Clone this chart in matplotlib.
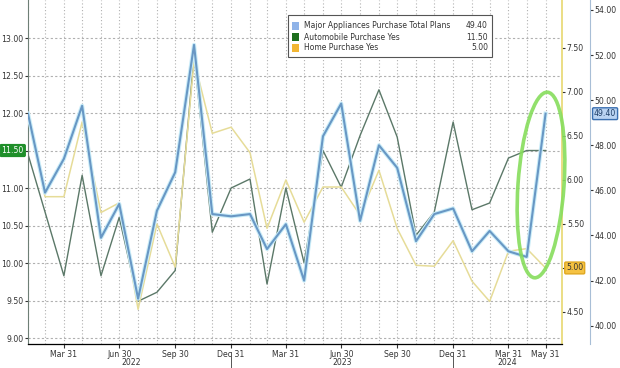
import numpy as np
import pandas as pd
import matplotlib
matplotlib.use('Agg')
import matplotlib.pyplot as plt
import matplotlib.dates as mdates
import matplotlib.patheffects as pe
from matplotlib.patches import Ellipse, Rectangle

plt.rcParams['font.family'] = 'DejaVu Sans'
plt.rcParams['font.size'] = 5.6

# monthly readings, Jan 2022 .. May 2024
months = pd.date_range('2022-01-31', '2024-05-31', freq='ME')
appliances = [49.4, 45.9, 47.4, 49.75, 43.9, 45.4, 41.2, 45.1, 46.8, 52.45, 44.95, 44.85,
              44.95, 43.4, 44.5, 42.0, 48.4, 49.85, 44.65, 48.0, 47.0, 43.75, 44.95, 45.2,
              43.3, 44.2, 43.3, 43.05, 49.4]
automobile = [11.45, 10.68, 9.83, 11.17, 9.83, 10.61, 9.49, 9.61, 9.9, 12.77, 10.41, 11.0,
              11.12, 9.72, 11.0, 10.0, 11.5, 11.01, 11.7, 12.31, 11.68, 10.37, 10.68, 11.88,
              10.71, 10.8, 11.4, 11.5, 11.5]
home = [6.72, 5.81, 5.81, 6.66, 5.63, 5.74, 4.53, 5.5, 5.01, 7.36, 6.53, 6.6,
        6.31, 5.45, 6.0, 5.52, 5.92, 5.92, 5.6, 6.11, 5.45, 5.03, 5.02, 5.31,
        4.85, 4.62, 5.19, 5.22, 5.0]

names = ['Major Appliances Purchase Total Plans', 'Automobile Purchase Yes', 'Home Purchase Yes']
last_vals = ['49.40', '11.50', '5.00']
legend_cols = ['#8fb3e8', '#1d6e1d', '#f2b632']

tick_dates = pd.to_datetime(['2022-03-31', '2022-06-30', '2022-09-30', '2022-12-31',
                             '2023-03-31', '2023-06-30', '2023-09-30', '2023-12-31',
                             '2024-03-31', '2024-05-31'])
year_breaks = pd.to_datetime(['2022-12-31', '2023-12-31'])
xmin, xmax = pd.Timestamp('2022-02-06'), pd.Timestamp('2024-06-27')

W, H = 620, 368
fig = plt.figure(figsize=(W / 100, H / 100), dpi=100)
ax = fig.add_axes([28 / W, 24 / H, 534 / W, 344 / H])
ax2 = ax.twinx()
ax3 = ax.twinx()
ax3.spines['right'].set_position(('outward', 20))

# grid
ax.set_xlim(xmin, xmax)
ax.set_xticks(tick_dates)
ax.set_xticks(months, minor=True)
ax.xaxis.set_major_formatter(mdates.DateFormatter('%b %d'))
ax.grid(which='both', axis='x', ls=(0, (1, 2)), color='#b0b0b0', lw=0.8)
ax.grid(which='major', axis='y', ls=(0, (2, 2)), color='#b0b0b0', lw=0.8)
ax.tick_params(axis='x', which='minor', length=0)
ax.tick_params(axis='x', which='major', length=3, pad=1, colors='#333333')

# lines
ax.plot(months, automobile, color='#5b7868', lw=1.0)
ax2.plot(months, home, color='#e6dc98', lw=1.1)
ax3.plot(months, appliances, color='#6897c4', lw=1.5,
         path_effects=[pe.withStroke(linewidth=3.0, foreground='#c9ecf8')])

ax.set_ylim(8.92, 13.507)
ax.set_yticks(np.arange(9, 13.01, 0.5))
ax.yaxis.set_major_formatter(matplotlib.ticker.FormatStrFormatter('%.2f'))
ax2.set_ylim(4.136, 8.045)
ax2.set_yticks(np.arange(4.5, 7.51, 0.5))
ax2.yaxis.set_major_formatter(matplotlib.ticker.FormatStrFormatter('%.2f'))
ax3.set_ylim(39.19, 54.44)
ax3.set_yticks(np.arange(40, 54.1, 2))
ax3.yaxis.set_major_formatter(matplotlib.ticker.FormatStrFormatter('%.2f'))

for a in (ax, ax2, ax3):
    a.tick_params(axis='y', length=2.5, pad=1, colors='#333333')
    a.spines['top'].set_visible(False)
ax.spines['left'].set_color('#6e7f76')
ax.spines['bottom'].set_color('#777777')
ax.spines['right'].set_visible(False)
ax2.spines['left'].set_visible(False)
ax3.spines['left'].set_visible(False)
ax2.spines['right'].set_color('#e8d870')
ax2.spines['right'].set_linewidth(1.2)
ax3.spines['right'].set_color('#a8bed6')

# year labels below the quarter ticks
edges = [xmin] + list(year_breaks) + [xmax]
for i, yr in enumerate(['2022', '2023', '2024']):
    mid = edges[i] + (edges[i + 1] - edges[i]) / 2
    ax.text(mid, -0.055, yr, transform=ax.get_xaxis_transform(), ha='center', va='center',
            color='#333333')
for d in year_breaks:
    ax.axvline(d, ymin=-0.07, ymax=-0.023, color='#555555', lw=0.7, clip_on=False)

# last-value tags
tag = dict(boxstyle='round,pad=0.18,rounding_size=0.15')
ax.annotate(last_vals[1], xy=(0, automobile[-1]), xycoords=('axes fraction', 'data'),
            xytext=(-3, 0), textcoords='offset points', ha='right', va='center', color='white',
            bbox=dict(tag, fc='#1f8f2a', ec='#1f8f2a'), zorder=10, annotation_clip=False)
ax2.annotate(last_vals[2], xy=(1, home[-1]), xycoords=('axes fraction', 'data'),
             xytext=(3, 0), textcoords='offset points', ha='left', va='center', color='#333333',
             bbox=dict(tag, fc='#f5c242', ec='#e0a820'), zorder=10, annotation_clip=False)
ax3.annotate(last_vals[0], xy=(1, appliances[-1]), xycoords=('axes fraction', 'data'),
             xytext=(23, 0), textcoords='offset points', ha='left', va='center', color='#1d3d66',
             bbox=dict(tag, fc='#b9d3f2', ec='#3a6fb0'), zorder=10, annotation_clip=False)

# legend box
def fx(px):
    return px / W

def fy(py):
    return 1 - py / H

fig.patches.append(Rectangle((fx(288), fy(57)), fx(492) - fx(288), fy(15) - fy(57),
                             transform=fig.transFigure, fc='white', ec='#555555', lw=0.8))
for i, (nm, v, c) in enumerate(zip(names, last_vals, legend_cols)):
    ry = 26 + 11 * i
    fig.patches.append(Rectangle((fx(292), fy(ry + 3.5)), fx(7), 7 / H,
                                 transform=fig.transFigure, fc=c, ec='none'))
    fig.text(fx(304), fy(ry), nm, ha='left', va='center', color='#333333', fontsize=5.5)
    fig.text(fx(488), fy(ry), v, ha='right', va='center', color='#333333', fontsize=5.5)

# highlight ring round the last month
fig.patches.append(Ellipse((5.41, 1.83), 0.46, 1.86, angle=-4, transform=fig.dpi_scale_trans,
                           fill=False, ec='#86dd5c', lw=2.6, alpha=0.9))

fig.savefig('out.png', dpi=100)
